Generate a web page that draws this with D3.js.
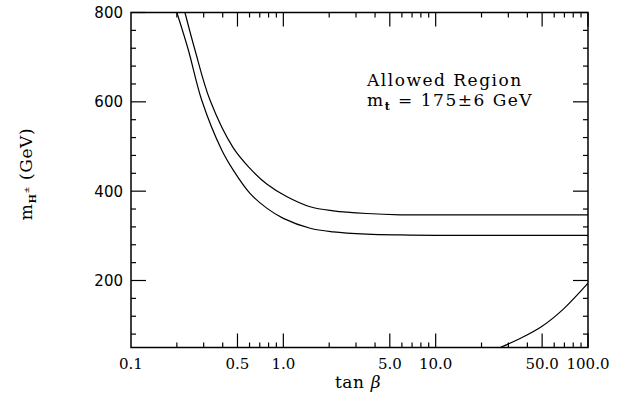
<html lang="en">
<head>
<meta charset="UTF-8">
<title>Charged Higgs allowed region</title>
<script src="https://d3js.org/d3.v7.min.js"></script>
<style>
    body, html { margin: 0; padding: 0; background: #fff; }
    svg { display: block; }
    .frame { fill: none; stroke: #000; stroke-width: 1.5; }
    .tick { stroke: #000; stroke-width: 1.2; }
    .curve { fill: none; stroke: #000; stroke-width: 1.2; }
    .ylab { font-family: "DejaVu Sans", sans-serif; font-size: 15px; }
    .xlab { font-family: "DejaVu Serif", serif; font-size: 15px; }
    .title { font-family: "DejaVu Serif", serif; font-size: 17px; letter-spacing: 0.6px; }
    .note { font-family: "DejaVu Serif", serif; font-size: 17px; letter-spacing: 1.5px; }
</style>
</head>
<body>
<div id="chart"></div>
<script>
    // upper and lower edges of the allowed band (m_t = 175 -/+ 6 GeV)
    const tanBetaUpper = [0.226, 0.263, 0.330, 0.467, 0.604, 0.778, 1.05, 1.5, 2.13, 3.53, 5.84, 10, 30, 100];
    const mHUpper      = [800,   716,   604,   498,   451,   416,   388,  365, 356,  350,  347,  347, 347, 347];
    const tanBetaLower = [0.2, 0.238, 0.291, 0.394, 0.469, 0.604, 0.778, 1.0, 1.5, 2.13, 3.53, 5.84, 10, 30, 100];
    const mHLower      = [800, 716,   604,   492,   447,   395,   362,   339, 317, 309,  304,  302,  301, 301, 301];
    // large tan beta bound
    const tanBetaHigh = [26.5, 35.8, 49.7, 68.9, 100];
    const mHHigh      = [50,   70,   97,   136,  194];

    const xMajor = [0.5, 1, 5, 10, 50, 100];
    const xMinor = [0.2, 0.3, 0.4, 0.6, 0.7, 0.8, 0.9, 2, 3, 4, 6, 7, 8, 9, 20, 30, 40, 60, 70, 80, 90];
    const xLabels = [0.1, 0.5, 1, 5, 10, 50, 100];
    const yMajor = [200, 400, 600, 800];
    const yMinor = [80, 120, 160, 240, 280, 320, 360, 440, 480, 520, 560, 640, 680, 720, 760];

    const width = 624, height = 403;
    const pLeft = 131, pRight = 588, pTop = 12.5, pBottom = 347.5;

    const x = d3.scaleLog().domain([0.1, 100]).range([pLeft, pRight]);
    const y = d3.scaleLinear().domain([50, 800]).range([pBottom, pTop]);

    const svg = d3.select("#chart").append("svg")
        .attr("width", width)
        .attr("height", height);

    svg.append("clipPath").attr("id", "clip")
        .append("rect")
        .attr("x", pLeft).attr("y", pTop)
        .attr("width", pRight - pLeft).attr("height", pBottom - pTop);

    const line = d3.line()
        .x(d => x(d[0]))
        .y(d => y(d[1]))
        .curve(d3.curveCatmullRom.alpha(0.5));

    const curves = [
        d3.zip(tanBetaUpper, mHUpper),
        d3.zip(tanBetaLower, mHLower),
        d3.zip(tanBetaHigh, mHHigh)
    ];

    svg.append("g").attr("clip-path", "url(#clip)")
        .selectAll("path")
        .data(curves)
        .enter().append("path")
        .attr("class", "curve")
        .attr("d", line);

    // ticks on all four sides, pointing inwards
    const ticks = svg.append("g");
    const xt = xMajor.map(v => [v, 14]).concat(xMinor.map(v => [v, 5]));
    ticks.selectAll(".xb").data(xt).enter().append("line")
        .attr("class", "tick")
        .attr("x1", d => x(d[0])).attr("x2", d => x(d[0]))
        .attr("y1", pBottom).attr("y2", d => pBottom - d[1]);
    ticks.selectAll(".xt").data(xt).enter().append("line")
        .attr("class", "tick")
        .attr("x1", d => x(d[0])).attr("x2", d => x(d[0]))
        .attr("y1", pTop).attr("y2", d => pTop + d[1]);
    const yt = yMajor.map(v => [v, 15]).concat(yMinor.map(v => [v, 5]));
    ticks.selectAll(".yl").data(yt).enter().append("line")
        .attr("class", "tick")
        .attr("y1", d => y(d[0])).attr("y2", d => y(d[0]))
        .attr("x1", pLeft).attr("x2", d => pLeft + d[1]);
    ticks.selectAll(".yr").data(yt).enter().append("line")
        .attr("class", "tick")
        .attr("y1", d => y(d[0])).attr("y2", d => y(d[0]))
        .attr("x1", pRight).attr("x2", d => pRight - d[1]);

    svg.append("rect")
        .attr("class", "frame")
        .attr("x", pLeft).attr("y", pTop)
        .attr("width", pRight - pLeft).attr("height", pBottom - pTop);

    // tick labels
    svg.selectAll(".xlab").data(xLabels).enter().append("text")
        .attr("class", "xlab")
        .attr("x", d => x(d))
        .attr("y", 369)
        .attr("text-anchor", "middle")
        .text(d => d3.format(".1f")(d));

    svg.selectAll(".ylab").data(yMajor).enter().append("text")
        .attr("class", "ylab")
        .attr("x", pLeft - 8)
        .attr("y", d => y(d) + 5.5)
        .attr("text-anchor", "end")
        .text(d => d);

    // axis titles
    const xTitle = svg.append("text")
        .attr("class", "title")
        .attr("x", 358).attr("y", 388)
        .attr("text-anchor", "middle");
    xTitle.append("tspan").text("tan ");
    xTitle.append("tspan").attr("font-style", "italic").text("β");

    const yTitle = svg.append("text")
        .attr("class", "title")
        .attr("transform", "translate(32,174) rotate(-90)")
        .attr("text-anchor", "middle");
    yTitle.append("tspan").text("m");
    yTitle.append("tspan").attr("font-size", "10px").attr("font-weight", "bold").attr("dy", 4).text("H");
    yTitle.append("tspan").attr("font-size", "8px").attr("dy", -7).text("±");
    yTitle.append("tspan").attr("dy", 3).text("  (GeV)");

    // annotation
    svg.append("text")
        .attr("class", "note")
        .attr("x", 367).attr("y", 86)
        .text("Allowed Region");
    const n2 = svg.append("text")
        .attr("class", "note")
        .attr("x", 367).attr("y", 106);
    n2.append("tspan").text("m");
    n2.append("tspan").attr("font-size", "11px").attr("font-weight", "bold").attr("dy", 4).text("t");
    n2.append("tspan").attr("dy", -4).text(" = 175±6 GeV");
</script>
</body>
</html>
